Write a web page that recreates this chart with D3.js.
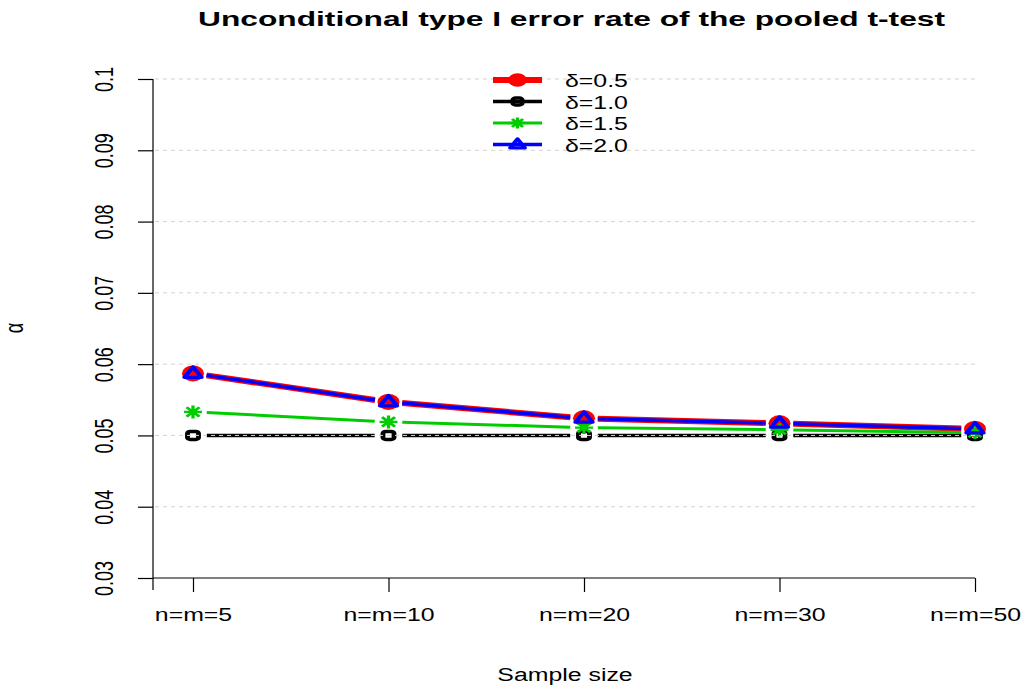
<!DOCTYPE html>
<html>
<head>
<meta charset="utf-8">
<script src="https://cdn.jsdelivr.net/npm/d3@7"></script>
<style>
  body { margin: 0; background: #fff; }
  svg { display: block; font-family: "Liberation Sans", Arial, sans-serif; }
</style>
</head>
<body>
<svg id="chart" width="1023" height="687"></svg>
<script>
// ------------------ DATA ------------------

const sampleSizes = ["n=m=5", "n=m=10", "n=m=20", "n=m=30", "n=m=50"];
const delta05 = [0.0587, 0.0547, 0.0524, 0.0517, 0.0509];
const delta10 = [0.0500, 0.0500, 0.0500, 0.0500, 0.0500];
const delta15 = [0.0533, 0.0519, 0.0511, 0.0508, 0.0504];
const delta20 = [0.0587, 0.0547, 0.0524, 0.0517, 0.0509];
const seriesLabels = ["δ=0.5", "δ=1.0", "δ=1.5", "δ=2.0"];
const yTicks = [0.03, 0.04, 0.05, 0.06, 0.07, 0.08, 0.09, 0.1];

// ------------------ LAYOUT ------------------

const sx = 1.38; // the picture is stretched horizontally
let svg = d3.select("#chart");
let plotLeft = 153, plotRight = 975, plotTop = 79, plotBottom = 578;

let x = d3.scalePoint().domain(sampleSizes).range([193, 975]);
let y = d3.scaleLinear().domain([0.03, 0.1]).range([plotBottom, plotTop]);

let series = [
    { label: seriesLabels[0], values: delta05, color: "#ff0000", width: 6, shape: "circle" },
    { label: seriesLabels[1], values: delta10, color: "#000000", width: 3.5, shape: "square" },
    { label: seriesLabels[2], values: delta15, color: "#00cd00", width: 3, shape: "star" },
    { label: seriesLabels[3], values: delta20, color: "#0000ff", width: 3.5, shape: "triangle" }
];

// ------------------ MARKERS ------------------

function drawMarker(g, shape, color, cx, cy, k) {
    let m = g.append("g").attr("transform", `translate(${cx},${cy}) scale(${sx},1)`);
    if (shape == "circle") {
        m.append("circle").attr("r", 8 * k).attr("fill", color);
    } else if (shape == "square") {
        let s = 4 * k;
        m.append("rect").attr("x", -s).attr("y", -s).attr("width", 2 * s).attr("height", 2 * s)
            .attr("rx", 2).attr("fill", "none").attr("stroke", color).attr("stroke-width", 3.5);
    } else if (shape == "triangle") {
        let s = 6.5 * k;
        m.append("path")
            .attr("d", `M0,${-s}L${s * 0.95},${s * 0.6}L${-s * 0.95},${s * 0.6}Z`)
            .attr("fill", "none").attr("stroke", color).attr("stroke-width", 3.2)
            .attr("stroke-linejoin", "round");
    } else if (shape == "star") {
        let s = 6.5 * k, d = s * 0.72;
        m.append("path")
            .attr("d", `M${-s},0H${s}M0,${-s}V${s}M${-d},${-d}L${d},${d}M${-d},${d}L${d},${-d}`)
            .attr("stroke", color).attr("stroke-width", 2.4).attr("fill", "none");
    }
}

// ------------------ AXES ------------------

let yAxis = svg.append("g")
    .attr("transform", `translate(${plotLeft},0)`)
    .call(d3.axisLeft(y).tickValues(yTicks).tickSize(15).tickFormat(d3.format("~g")));
yAxis.select(".domain").remove();
yAxis.selectAll(".tick line").attr("stroke", "#000").attr("stroke-width", 1.2);
yAxis.selectAll(".tick text")
    .attr("x", null).attr("dy", null)
    .attr("text-anchor", "middle")
    .attr("font-size", 18).attr("fill", "#000")
    .attr("transform", `translate(-40,0) scale(${sx},1) rotate(-90)`);

svg.append("line")
    .attr("x1", plotLeft).attr("x2", plotLeft).attr("y1", plotTop).attr("y2", plotBottom + 12)
    .attr("stroke", "#000").attr("stroke-width", 1.2);
svg.append("line")
    .attr("x1", plotLeft).attr("x2", plotRight).attr("y1", plotBottom).attr("y2", plotBottom)
    .attr("stroke", "#000").attr("stroke-width", 1.2);

let xAxis = svg.append("g")
    .attr("transform", `translate(0,${plotBottom})`)
    .call(d3.axisBottom(x).tickSize(14));
xAxis.select(".domain").remove();
xAxis.selectAll(".tick line").attr("stroke", "#000").attr("stroke-width", 1.2);
xAxis.selectAll(".tick text")
    .attr("y", null).attr("dy", null)
    .attr("text-anchor", "middle")
    .attr("font-size", 18).attr("fill", "#000")
    .attr("transform", `translate(0,43) scale(${sx},1)`);

// ------------------ LINES ------------------

let plot = svg.append("g");
let gap = 10;

series.forEach((s) => {
    for (let i = 0; i < s.values.length - 1; i++) {
        let x1 = x(sampleSizes[i]), y1 = y(s.values[i]);
        let x2 = x(sampleSizes[i + 1]), y2 = y(s.values[i + 1]);
        // type="b": leave a gap round each point (in unstretched space)
        let dx = (x2 - x1) / sx, dy = y2 - y1;
        let len = Math.sqrt(dx * dx + dy * dy);
        let ux = dx / len, uy = dy / len;
        plot.append("line")
            .attr("x1", x1 + ux * gap * sx).attr("y1", y1 + uy * gap)
            .attr("x2", x2 - ux * gap * sx).attr("y2", y2 - uy * gap)
            .attr("stroke", s.color).attr("stroke-width", s.width);
    }
    s.values.forEach((v, i) => {
        drawMarker(plot, s.shape, s.color, x(sampleSizes[i]), y(v), 1);
    });
});

// grid drawn last, over the lines
svg.append("g")
    .selectAll("line")
    .data(yTicks.slice(1))
    .enter().append("line")
    .attr("x1", plotLeft + 2).attr("x2", plotRight)
    .attr("y1", (d) => y(d)).attr("y2", (d) => y(d))
    .attr("stroke", "#d3d3d3").attr("stroke-width", 1)
    .attr("stroke-dasharray", "4,4");

// ------------------ LEGEND ------------------

let legend = svg.append("g");
series.forEach((s, i) => {
    let ly = 80 + i * 21.5;
    legend.append("line")
        .attr("x1", 493).attr("x2", 542).attr("y1", ly).attr("y2", ly)
        .attr("stroke", s.color).attr("stroke-width", s.width);
    drawMarker(legend, s.shape, s.color, 517.5, ly, 0.85);
    legend.append("text")
        .attr("transform", `translate(565,${ly + 7}) scale(${sx},1)`)
        .attr("font-size", 18).attr("fill", "#000")
        .text(s.label);
});

// ------------------ TITLES ------------------

svg.append("text")
    .attr("x", 198).attr("y", 26)
    .attr("font-size", 21).attr("font-weight", "bold")
    .attr("textLength", 747).attr("lengthAdjust", "spacingAndGlyphs")
    .text("Unconditional type I error rate of the pooled t-test");

svg.append("text")
    .attr("transform", `translate(565,681) scale(${sx},1)`)
    .attr("text-anchor", "middle").attr("font-size", 18)
    .text("Sample size");

svg.append("text")
    .attr("transform", `translate(23,328) scale(${sx},1) rotate(-90)`)
    .attr("text-anchor", "middle").attr("font-size", 18)
    .text("α");
</script>
</body>
</html>
